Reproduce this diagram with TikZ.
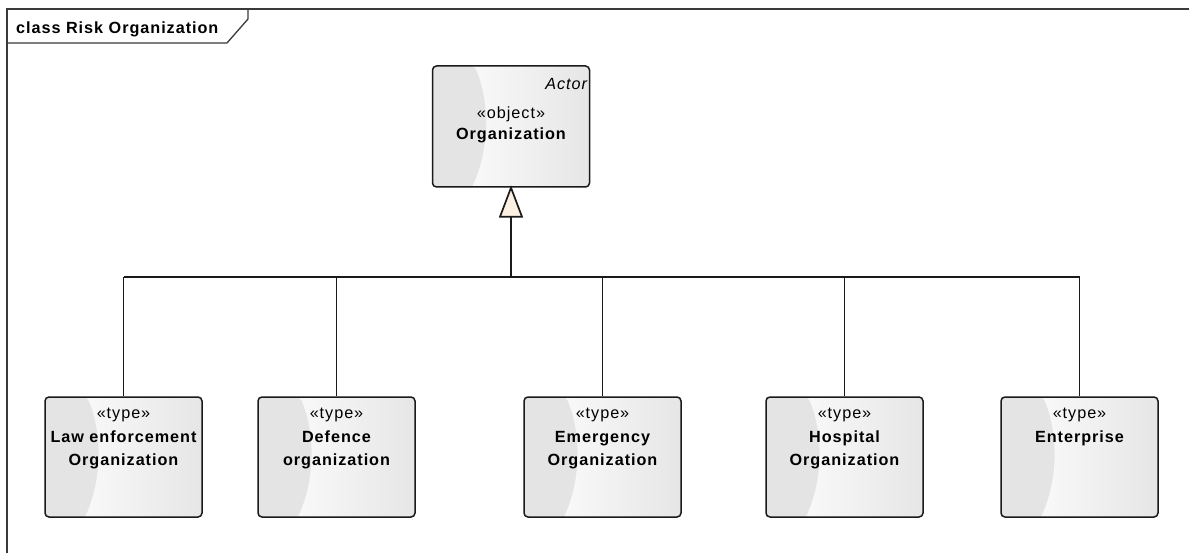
\documentclass[tikz,border=0pt]{standalone}
\usepackage{fontspec}
\setmainfont{Liberation Sans}
\newfontfamily\eafont[LetterSpace=6]{Liberation Sans}
\usetikzlibrary{calc,backgrounds}
\definecolor{bordercol}{HTML}{1A1A1A}
\definecolor{framecol}{HTML}{3A3A3A}
\definecolor{shadowcol}{HTML}{C3C9D6}
\definecolor{crescol}{HTML}{E4E4E4}
\definecolor{boxright}{HTML}{E6E6E6}
\definecolor{trifill}{HTML}{FCF0E2}
\begin{document}
\begin{tikzpicture}[x=1pt,y=-1pt,
  umlbox/.style={draw=bordercol, line width=1.5pt, rounded corners=4pt,
    minimum width=157pt, minimum height=120pt, inner sep=0pt,
    path picture={
      \fill[left color=white, right color=boxright]
        (path picture bounding box.south west) rectangle (path picture bounding box.north east);
      \coordinate (pnw) at (path picture bounding box.north west);
      \fill[crescol] (pnw) -- ($(pnw)+(42,0)$)
        .. controls ($(pnw)+(57,35)$) and ($(pnw)+(58,82)$) .. ($(pnw)+(38,124)$)
        -- ($(pnw)+(0,124)$) -- cycle;
    }},
  txt/.style={anchor=base, inner sep=0pt, font=\eafont\fontsize{16.2}{18}\selectfont},
  btxt/.style={txt, font=\eafont\fontsize{16.2}{18}\selectfont\bfseries},
  conn/.style={draw=bordercol, line width=1.7pt},
]
\useasboundingbox (0,0) rectangle (1189,553);
\fill[white] (0,0) rectangle (1189,553);

% frame
\draw[framecol, line width=1.3pt] (7,553) -- (7,9) -- (1189,9);
\draw[framecol, line width=1.3pt] (7,43) -- (227,43) -- (248,19) -- (248,9);
\node[btxt, anchor=base west] (hdr) at (16,34) {class Risk Organization};

% boxes
\node[umlbox, minimum height=121pt] (org) at (511,126.5) {};
\node[umlbox] (law) at (123.5,457) {};
\node[umlbox] (def) at (336.5,457) {};
\node[umlbox] (eme) at (602.5,457) {};
\node[umlbox] (hos) at (844.5,457) {};
\node[umlbox] (ent) at (1079.5,457) {};

\begin{scope}[on background layer]
  \foreach \b in {org,law,def,eme,hos,ent}
    \fill[shadowcol, rounded corners=4pt] ($(\b.south west)+(4,4)$) rectangle ($(\b.north east)+(4,4)$);
\end{scope}

% texts of Organization
\node[txt, anchor=base east, font=\eafont\fontsize{16.2}{18}\selectfont\itshape] (actor) at ($(org.north east)+(-3,24)$) {Actor};
\node[txt] (orgA) at ($(org.north)+(0,53)$) {«object»};
\node[btxt] (orgB) at ($(org.north)+(0,74)$) {Organization};

% texts of type boxes
\foreach \n/\a/\c in {law/Law enforcement/Organization, def/Defence/organization, eme/Emergency/Organization, hos/Hospital/Organization}{
  \node[txt] (\n A) at ($(\n.north)+(0,22)$) {«type»};
  \node[btxt] (\n B) at ($(\n.north)+(0,46)$) {\a};
  \node[btxt] (\n C) at ($(\n.north)+(0,69)$) {\c};
}
\node[txt] (entA) at ($(ent.north)+(0,22)$) {«type»};
\node[btxt] (entB) at ($(ent.north)+(0,46)$) {Enterprise};

% generalization
\coordinate (tb) at ($(org.south)+(0,29)$);
\coordinate (bus) at (511,277);
\draw[conn] (tb) -- (bus);
\draw[conn] (law.north |- bus) -- (ent.north |- bus);
\foreach \n in {law,def,eme,hos,ent}
  \draw[conn] (\n.north) -- (\n.north |- bus);
\draw[conn, fill=trifill, line join=miter] (org.south) -- ($(tb)+(-11,0)$) -- ($(tb)+(11,0)$) -- cycle;
\end{tikzpicture}
\end{document}
